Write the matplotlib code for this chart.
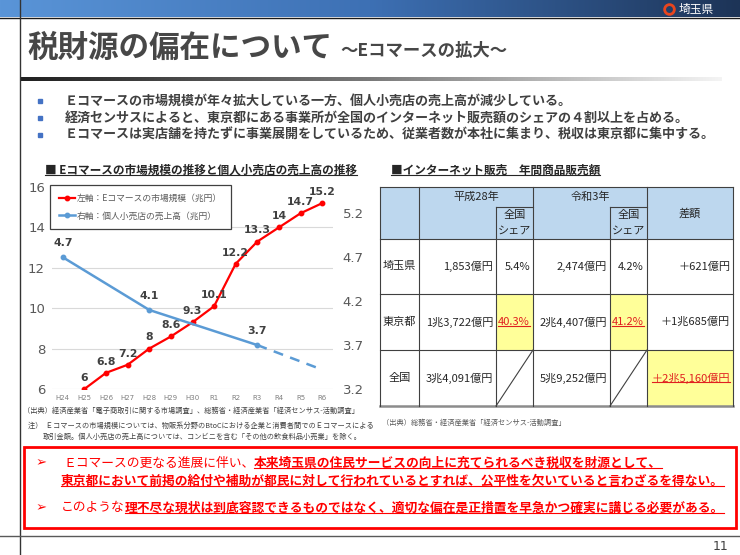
import matplotlib
matplotlib.use('Agg')
import matplotlib.pyplot as plt
import numpy as np
from matplotlib.patches import Rectangle
from matplotlib.colors import LinearSegmentedColormap
from matplotlib.font_manager import FontProperties

JP = ['Noto Sans CJK JP', 'DejaVu Sans']
plt.rcParams['font.family'] = JP

# ---- chart data ----
years = ['H24', 'H25', 'H26', 'H27', 'H28', 'H29', 'H30', 'R1', 'R2', 'R3', 'R4', 'R5', 'R6']
ec_years = ['H25', 'H26', 'H27', 'H28', 'H29', 'H30', 'R1', 'R2', 'R3', 'R4', 'R5', 'R6']
ec_values = [6, 6.8, 7.2, 8, 8.6, 9.3, 10.1, 12.2, 13.3, 14, 14.7, 15.2]
shop_years = ['H24', 'H28', 'R3']
shop_values = [4.7, 4.1, 3.7]
proj_years = ['R3', 'R6']
proj_values = [3.7, 3.42]
left_ticks = [6, 8, 10, 12, 14, 16]
right_ticks = [3.2, 3.7, 4.2, 4.7, 5.2]
ec_label = '左軸：Eコマースの市場規模（兆円）'
shop_label = '右軸：個人小売店の売上高（兆円）'

# ---- table data ----
regions = ['埼玉県', '東京都', '全国']
h28_sales = ['1,853億円', '1兆3,722億円', '3兆4,091億円']
h28_share = ['5.4%', '40.3%', '']
r3_sales = ['2,474億円', '2兆4,407億円', '5兆9,252億円']
r3_share = ['4.2%', '41.2%', '']
diff = ['＋621億円', '＋1兆685億円', '＋2兆5,160億円']

bullets = ['Ｅコマースの市場規模が年々拡大している一方、個人小売店の売上高が減少している。',
           '経済センサスによると、東京都にある事業所が全国のインターネット販売額のシェアの４割以上を占める。',
           'Ｅコマースは実店舗を持たずに事業展開をしているため、従業者数が本社に集まり、税収は東京都に集中する。']

fig = plt.figure(figsize=(7.4, 5.55), dpi=100)
bg = fig.add_axes([0, 0, 1, 1])
bg.axis('off')
r = fig.canvas.get_renderer()


def put(x, y, s, ul=False, ulc=None, **kw):
    t = bg.text(x, y, s, va='center', **kw)
    bb = t.get_window_extent(renderer=r)
    inv = bg.transData.inverted()
    x0, yb = inv.transform((bb.x0, bb.y0))
    x1, _ = inv.transform((bb.x1, bb.y0))
    if ul:
        bg.plot([x0, x1], [yb - 1.5, yb - 1.5], color=ulc or kw.get('color', 'k'), lw=0.8)
    return x1


# header bar + title
grad = np.linspace(0, 1, 256).reshape(1, -1)
hdr = LinearSegmentedColormap.from_list('hdr', ['#5a95d8', '#3d70b4', '#1d3457'])
bg.imshow(grad, cmap=hdr, extent=(0, 740, 17, 0), aspect='auto')
uln = LinearSegmentedColormap.from_list('uln', ['#202020', '#7a7a7a', '#f4f4f4'])
bg.imshow(grad, cmap=uln, extent=(20, 722, 81, 77), aspect='auto')
bg.set_xlim(0, 740)
bg.set_ylim(555, 0)
bg.plot([0, 740], [17.5, 17.5], color='#1a1a1a', lw=1)
bg.plot([20, 20], [0, 555], color='#333333', lw=1)
bg.plot([669], [9], marker='o', ms=7, mfc='none', mec='#e8451e', mew=2)
bg.text(679, 9, '埼玉県', color='white', fontsize=8.5, va='center')

x = put(27, 48, '税財源の偏在について', fontsize=22, fontweight='bold', color='#474747')
put(x + 8, 51, '～Eコマースの拡大～', fontsize=12.5, fontweight='bold', color='#474747')

for i, b in enumerate(bullets):
    yy = 101 + i * 17
    bg.plot([40], [yy], marker='s', ms=3.5, color='#4472c4')
    put(65, yy, b, fontsize=9.4, fontweight='bold', color='#404040')

# chart titles
put(45, 170, '■ Eコマースの市場規模の推移と個人小売店の売上高の推移', ul=True,
    fontsize=8.4, fontweight='bold', color='#262626')
put(391, 170, '■インターネット販売　年間商品販売額', ul=True,
    fontsize=8.4, fontweight='bold', color='#262626')

# ---- line chart ----
ax = fig.add_axes([52 / 740, 1 - 389 / 555, 281 / 740, 202 / 555])
ax.patch.set_alpha(0)
ax2 = ax.twinx()
ax.set_xlim(-0.5, len(years) - 0.5)
ax.set_ylim(left_ticks[0], left_ticks[-1])
ax2.set_ylim(3.2, 5.5)
for t in left_ticks[:-1]:
    ax.axhline(t, color='#d9d9d9', lw=0.8, zorder=0)

xi = lambda lst: [years.index(v) for v in lst]
red = '#ff0000'
blue = '#5b9bd5'
l1, = ax.plot(xi(ec_years), ec_values, color=red, lw=1.6, marker='o', ms=3.2)
l2, = ax2.plot(xi(shop_years), shop_values, color=blue, lw=1.8, marker='o', ms=3.2)
ax2.plot(xi(proj_years), proj_values, color=blue, lw=1.8, ls=(0, (4, 3)))

lab = dict(fontsize=7.8, fontweight='bold', color='#404040', family='DejaVu Sans',
           ha='center', va='bottom', textcoords='offset points')
for xv, v in zip(xi(ec_years), ec_values):
    ax.annotate(f'{v:g}', (xv, v), xytext=(0, 4.5), **lab)
for xv, v in zip(xi(shop_years), shop_values):
    ax2.annotate(f'{v:g}', (xv, v), xytext=(0, 6.5), **lab)

ax.set_xticks(range(len(years)))
ax.set_xticklabels(years, fontsize=5, color='#7f7f7f', family='DejaVu Sans')
ax.set_yticks(left_ticks)
ax.set_yticklabels([f'{t:g}' for t in left_ticks], fontsize=9.5, color='#595959', family='DejaVu Sans')
ax2.set_yticks(right_ticks)
ax2.set_yticklabels([f'{t:g}' for t in right_ticks], fontsize=9.5, color='#595959', family='DejaVu Sans')
ax.tick_params(axis='x', length=0, pad=4)
ax.tick_params(axis='y', length=0, pad=5)
ax2.tick_params(axis='y', length=0, pad=7)
for a in (ax, ax2):
    for s in a.spines.values():
        s.set_visible(False)

leg = ax2.legend([l1, l2], [ec_label, shop_label], loc='upper left',
                 bbox_to_anchor=(50 / 740, 1 - 185 / 555), bbox_transform=fig.transFigure,
                 borderaxespad=0, prop=FontProperties(family=JP, size=6.3), labelcolor='#595959',
                 fancybox=False, framealpha=1, edgecolor='#404040', handlelength=1.9,
                 handletextpad=0.2, borderpad=1.0, labelspacing=1.0)
leg.get_frame().set_linewidth(0.9)

foot = dict(fontsize=5.2, color='#404040')
put(23, 411, '（出典）経済産業省「電子商取引に関する市場調査」、総務省・経済産業省「経済センサス-活動調査」', **foot)
put(28, 426, '注）  Ｅコマースの市場規模については、物販系分野のBtoCにおける企業と消費者間でのＥコマースによる', **foot)
put(43, 437, '取引金額。個人小売店の売上高については、コンビニを含む「その他の飲食料品小売業」を除く。', **foot)

# ---- table ----
cx = [380, 419, 496, 533, 610, 647, 733]
ty, ymid, hy = 187, 207, 239
ry = [239, 294, 350, 406]
ink = '#262626'
bg.add_patch(Rectangle((cx[0], ty), cx[-1] - cx[0], hy - ty, fc='#bdd7ee', ec='none'))
yellow = [(2, 1), (4, 1), (5, 2)]
for c, rw in yellow:
    bg.add_patch(Rectangle((cx[c], ry[rw]), cx[c + 1] - cx[c], ry[rw + 1] - ry[rw], fc='#ffff99', ec='none'))
ln = dict(color='#404040', lw=0.8)
for yv in [ty] + ry[:-1]:
    bg.plot([cx[0], cx[-1]], [yv, yv], **ln)
bg.plot([cx[0], cx[-1]], [ry[-1], ry[-1]], color='#8c8c8c', lw=1.8)
for c in (2, 4):
    bg.plot([cx[c], cx[c + 1]], [ymid, ymid], **ln)
    bg.plot([cx[c], cx[c]], [ymid, ry[-1]], **ln)
    bg.plot([cx[c], cx[c + 1]], [ry[-1], ry[-2]], **ln)
for c in (0, 1, 3, 5, 6):
    bg.plot([cx[c], cx[c]], [ty, ry[-1]], **ln)

hd = dict(fontsize=8, color=ink, ha='center')
put((cx[1] + cx[3]) / 2, 197, '平成28年', **hd)
put((cx[3] + cx[5]) / 2, 197, '令和3年', **hd)
put((cx[5] + cx[6]) / 2, 213, '差額', **hd)
for c in (2, 4):
    put((cx[c] + cx[c + 1]) / 2, 215, '全国', **hd)
    put((cx[c] + cx[c + 1]) / 2, 231, 'シェア', **hd)

cols = [h28_sales, h28_share, r3_sales, r3_share, diff]
for i, reg in enumerate(regions):
    yc = (ry[i] + ry[i + 1]) / 2
    put((cx[0] + cx[1]) / 2, yc, reg, fontsize=8, color=ink, ha='center')
    for j, col in enumerate(cols):
        s = col[i]
        if not s:
            continue
        hot = (j + 1, i) in yellow
        put(cx[j + 2] - 3, yc, s, ul=hot, fontsize=8, ha='right',
            color='#e02020' if hot else ink)

put(382, 423, '（出典）総務省・経済産業省「経済センサス-活動調査」', fontsize=5.2, color='#595959')

# ---- red box ----
bg.add_patch(Rectangle((24, 447), 712, 81, fc='none', ec='#ff0000', lw=2))
rk = dict(fontsize=9.2, color='#ff0000')
for yy in (463, 508):
    bg.text(36, yy, '➢', fontsize=9.5, color='#ff0000', va='center', family=['DejaVu Sans'])
x = put(63, 463, 'Ｅコマースの更なる進展に伴い、', **rk)
put(x, 463, '本来埼玉県の住民サービスの向上に充てられるべき税収を財源として、', ul=True, fontweight='bold', **rk)
put(61, 481, '東京都において前掲の給付や補助が都民に対して行われているとすれば、公平性を欠いていると言わざるを得ない。',
    ul=True, fontweight='bold', **rk)
x = put(61, 508, 'このような', **rk)
put(x, 508, '理不尽な現状は到底容認できるものではなく、適切な偏在是正措置を早急かつ確実に講じる必要がある。',
    ul=True, fontweight='bold', **rk)

bg.plot([0, 740], [536, 536], color='#595959', lw=1)
bg.text(728, 547, '11', fontsize=9, color='#404040', ha='right', va='center', family='DejaVu Sans')

fig.savefig('out.png', dpi=100)
